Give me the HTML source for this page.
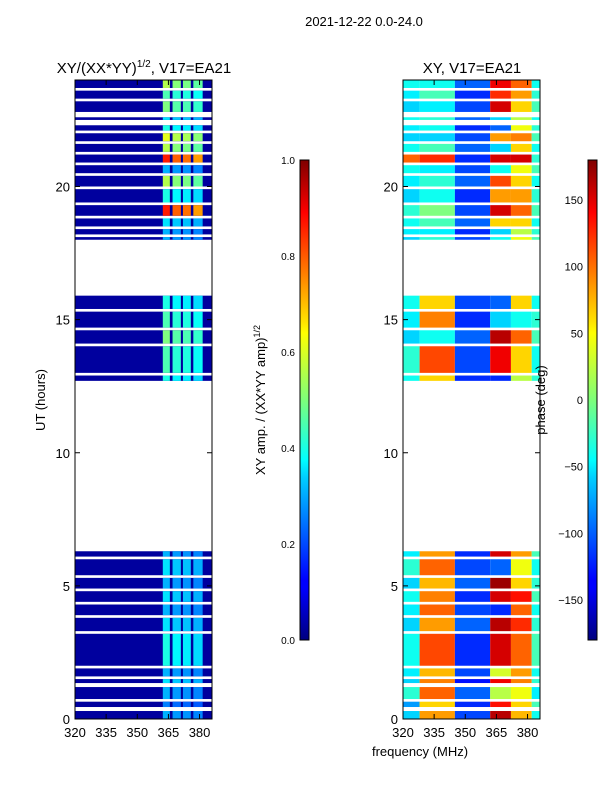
<!DOCTYPE html>
<html><head><meta charset="utf-8"><style>
html,body{margin:0;padding:0;background:#fff;}
svg text{font-family:"Liberation Sans","DejaVu Sans",sans-serif;}
</style></head><body>
<svg id="fig" width="600" height="800" viewBox="0 0 600 800" xmlns="http://www.w3.org/2000/svg">
<defs>
<linearGradient id="jetg" x1="0" y1="1" x2="0" y2="0">
<stop offset="0" stop-color="#00007f"/><stop offset="0.11" stop-color="#0000ff"/><stop offset="0.125" stop-color="#0000ff"/>
<stop offset="0.34" stop-color="#00d0ff"/><stop offset="0.375" stop-color="#00ffff"/><stop offset="0.5" stop-color="#7dff7a"/>
<stop offset="0.64" stop-color="#ffff00"/><stop offset="0.66" stop-color="#ffe600"/><stop offset="0.89" stop-color="#ff0000"/><stop offset="1" stop-color="#7f0000"/>
</linearGradient>
</defs>
<text x="364" y="26" font-size="13" text-anchor="middle">2021-12-22 0.0-24.0</text>
<text x="144" y="73" font-size="15" text-anchor="middle">XY/(XX*YY)<tspan font-size="10" dy="-6">1/2</tspan><tspan dy="6">, V17=EA21</tspan></text>
<text x="472" y="73" font-size="15" text-anchor="middle">XY, V17=EA21</text>
<g id="leftPanel"></g>
<g id="rightPanel"></g>
<g id="axes"></g>
<rect x="300" y="160" width="9" height="480" fill="url(#jetg)" stroke="#000" stroke-width="1"/>
<rect x="588" y="160" width="9" height="480" fill="url(#jetg)" stroke="#000" stroke-width="1"/>
<text transform="translate(45,400) rotate(-90)" font-size="13" text-anchor="middle">UT (hours)</text>
<text transform="translate(265,400) rotate(-90)" font-size="13" text-anchor="middle">XY amp. / (XX*YY amp)<tspan font-size="9" dy="-5">1/2</tspan></text>
<text transform="translate(545,400) rotate(-90)" font-size="13" text-anchor="middle">phase (deg)</text>
<text x="420" y="756" font-size="13" text-anchor="middle">frequency (MHz)</text>
</svg>
<script>
const segStart=[0,0.45,0.75,1.35,1.6,2.0,3.3,3.9,4.4,4.9,5.4,6.1,12.7,13.0,14.1,14.7,15.4,18.0,18.2,18.5,18.9,19.4,20.0,20.5,20.9,21.3,21.7,22.1,22.5,22.8,23.3,23.7];
const segEnd=[0.3,0.65,1.2,1.5,1.9,3.2,3.8,4.3,4.8,5.3,6.0,6.3,12.9,14.0,14.6,15.3,15.9,18.1,18.4,18.8,19.3,19.9,20.4,20.8,21.2,21.6,22.0,22.3,22.6,23.2,23.6,24.0];
const ampVal=[0.3,0.25,0.3,0.35,0.3,0.4,0.35,0.3,0.35,0.3,0.35,0.3,0.4,0.45,0.5,0.45,0.4,0.3,0.3,0.35,0.85,0.4,0.55,0.3,0.85,0.55,0.6,0.4,0.35,0.5,0.45,0.55];
const freqBands=[320,328,345,362,372,382,386];
const phB1=[-60,-80,-30,-60,-50,-40,-60,-50,-40,-60,-30,-50,-40,-30,-60,-50,-40,-60,-50,-40,-30,-60,-50,-40,100,-40,-60,-50,-40,-60,-50,-40];
const phB2=[80,60,100,90,70,110,80,100,90,70,100,80,60,110,-40,90,60,-30,-50,-20,0,-40,-30,-50,120,-20,-60,-40,-30,-50,-20,-40];
const phB3=[-110,-120,-100,-130,-110,-120,-100,-110,-120,-100,-110,-120,-120,-110,-100,-120,-110,-110,-120,-100,-110,-120,-100,-110,-120,-100,-110,-120,-100,-110,-120,-100];
const phB4=[160,130,20,140,30,150,160,-120,150,170,-100,150,-120,140,160,-60,-100,-40,-60,60,150,80,110,-40,150,-60,80,-100,-60,150,120,140];
const phB5=[70,60,40,90,80,100,120,100,130,60,40,80,20,60,100,-40,60,40,20,60,100,80,60,40,150,60,90,40,20,60,80,100];
const phB6=[-40,-20,-50,-30,-40,-20,-30,-40,-20,-30,-40,-20,-30,-40,-20,-30,-40,-20,-30,-40,-20,-30,-40,-20,-30,-40,-20,-30,-40,-20,-30,-40];
const ampCols=[[362.3,365.7],[367,371],[372,375.8],[377,381.5]];
const ampScale=[1.0,0.92,0.9,0.85];
const yTicks=[0,5,10,15,20];
const xTicks=[320,335,350,365,380];
const ampTicks=[0,0.2,0.4,0.6,0.8,1.0];
const phTicks=[-150,-100,-50,0,50,100,150];

const NS="http://www.w3.org/2000/svg";
const pxPerMHz=137/66;
function xL(f){return 75+(f-320)*pxPerMHz;}
function xR(f){return 403+(f-320)*pxPerMHz;}
function yT(t){return 719-t*639/24;}
function cl(v){return Math.max(0,Math.min(1,v));}
function jet(v){v=cl(v);const r=cl(1.5-Math.abs(4*v-3)),g=cl(1.5-Math.abs(4*v-2)),b=cl(1.5-Math.abs(4*v-1));
return `rgb(${Math.round(r*255)},${Math.round(g*255)},${Math.round(b*255)})`;}
function mk(tag,attrs,parent){const e=document.createElementNS(NS,tag);for(const k in attrs)e.setAttribute(k,attrs[k]);parent.appendChild(e);return e;}
const LP=document.getElementById('leftPanel'),RP=document.getElementById('rightPanel'),AX=document.getElementById('axes');
const phRows=[phB1,phB2,phB3,phB4,phB5,phB6];
for(let i=0;i<segStart.length;i++){
  const y0=yT(segEnd[i]),h=yT(segStart[i])-y0;
  let r=mk('rect',{x:xL(320),y:y0,width:xL(386)-xL(320),height:h,fill:jet(0.03)},LP);
  
  
  for(let c=0;c<ampCols.length;c++){
    let rc=mk('rect',{x:xL(ampCols[c][0]),y:y0,width:xL(ampCols[c][1])-xL(ampCols[c][0]),height:h,fill:jet(ampVal[i]*ampScale[c])},LP);
    
    
  }
  for(let b=0;b<6;b++){
    let rp=mk('rect',{x:xR(freqBands[b]),y:y0,width:xR(freqBands[b+1])-xR(freqBands[b]),height:h,fill:jet((phRows[b][i]+180)/360)},RP);
    
    
  }
}
function frame(x0){
  let f=mk('rect',{x:x0,y:80,width:137,height:639,fill:'none',stroke:'#000','stroke-width':1},AX);
  
  
  yTicks.forEach(t=>{const y=yT(t);
    mk('line',{x1:x0,x2:x0+5,y1:y,y2:y,stroke:'#000'},AX);
    mk('line',{x1:x0+137,x2:x0+132,y1:y,y2:y,stroke:'#000'},AX);
    let tx=mk('text',{x:x0-5,y:y+5,'font-size':13,'text-anchor':'end'},AX);tx.textContent=t;
    
    
  });
  xTicks.forEach(f2=>{const x=x0+(f2-320)*pxPerMHz;
    mk('line',{x1:x,x2:x,y1:719,y2:714,stroke:'#000'},AX);
    mk('line',{x1:x,x2:x,y1:80,y2:85,stroke:'#000'},AX);
    let tx=mk('text',{x:x,y:737,'font-size':13,'text-anchor':'middle'},AX);tx.textContent=f2;
    
    
  });
}
frame(75);frame(403);
ampTicks.forEach(v=>{const y=640-v*480;
  mk('line',{x1:300,x2:303,y1:y,y2:y,stroke:'#000'},AX);mk('line',{x1:309,x2:306,y1:y,y2:y,stroke:'#000'},AX);
  let tx=mk('text',{x:295,y:y+4,'font-size':10,'text-anchor':'end'},AX);tx.textContent=v.toFixed(1);
  
  
});
phTicks.forEach(v=>{const y=640-(v+180)/360*480;
  mk('line',{x1:588,x2:591,y1:y,y2:y,stroke:'#000'},AX);mk('line',{x1:597,x2:594,y1:y,y2:y,stroke:'#000'},AX);
  let tx=mk('text',{x:583,y:y+4,'font-size':11,'text-anchor':'end'},AX);tx.textContent=v<0?'\u2212'+(-v):v;
  
  
});
</script>
</body></html>
